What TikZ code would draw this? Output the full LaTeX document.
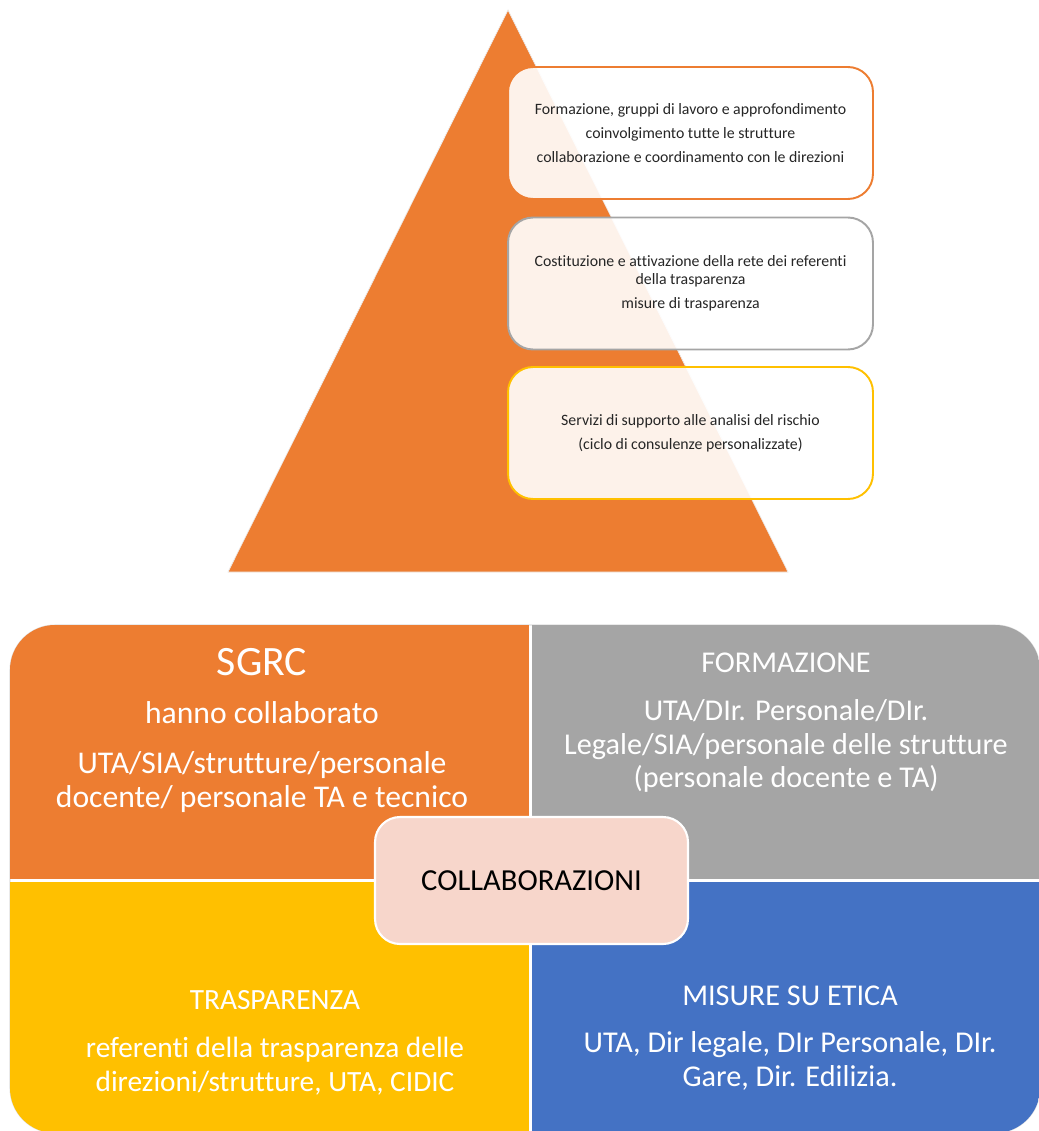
\documentclass[tikz,border=0pt]{standalone}
\usepackage{fontspec}
\setmainfont[Ligatures=NoCommon]{Carlito}
\usetikzlibrary{positioning}
\definecolor{accorange}{RGB}{237,125,49}
\definecolor{accgray}{RGB}{165,165,165}
\definecolor{accgold}{RGB}{255,192,0}
\definecolor{accblue}{RGB}{68,114,196}
\definecolor{accpeach}{RGB}{247,214,203}
\tikzset{
  tierbox/.style={draw, line width=1.1pt, rounded corners=0.5cm, fill=white, fill opacity=0.9,
    text opacity=1, minimum width=7.3cm, minimum height=2.64cm, align=center,
    font=\fontsize{9}{9.8}\selectfont, text=black!85},
  cornertext/.style={text=white, align=center, font=\fontsize{17.2}{19}\selectfont},
  cornertitle/.style={text=white, font=\fontsize{17.2}{19}\selectfont}
}

\begin{document}
\begin{tikzpicture}[x=0.02cm, y=-0.02cm]
  \useasboundingbox (0,0) rectangle (1038,1131);

  % pyramid
  \filldraw[fill=accorange, draw=white!85!gray, line width=0.4pt] (508,10) -- (788,572) -- (228,572) -- cycle;

  \node[tierbox, draw=accorange] (tierA) at (690.5,133)
    {Formazione, gruppi di lavoro e approfondimento\\[4pt]
     coinvolgimento tutte le strutture\\[4pt]
     collaborazione e coordinamento con le direzioni};
  \node[tierbox, draw=accgray] (tierB) at (690.5,283.5)
    {Costituzione e attivazione della rete dei referenti\\
     della trasparenza\\[4pt]
     misure di trasparenza};
  \node[tierbox, draw=accgold] (tierC) at (690.5,433)
    {Servizi di supporto alle analisi del rischio\\[4pt]
     (ciclo di consulenze personalizzate)};

  % four coloured quarters
  \draw[gray!25, line width=0.6pt, rounded corners=0.9cm] (10,625) rectangle (1040,1133);
  \begin{scope}
    \clip[rounded corners=0.9cm] (10,625) rectangle (1040,1133);
    \fill[accorange] (10,625) rectangle (529,879);
    \fill[accgray] (532,625) rectangle (1040,879);
    \fill[accgold] (10,882) rectangle (529,1133);
    \fill[accblue] (532,882) rectangle (1040,1133);
  \end{scope}

  \node[cornertitle, font=\fontsize{23.8}{27}\selectfont] (sgrc) at (262,662) {SGRC};
  \node[cornertext, font=\fontsize{18}{19.3}\selectfont] (sgrcText) at (262,757)
    {hanno collaborato\\[9pt]
     UTA/SIA/strutture/personale\\
     docente/ personale TA e tecnico};

  \node[cornertitle] (formaz) at (786,663) {FORMAZIONE};
  \node[cornertext] (formazText) at (786,746)
    {UTA/DIr. Personale/DIr.\\
     Legale/SIA/personale delle strutture\\
     (personale docente e TA)};

  \node[cornertitle, font=\fontsize{16.7}{19}\selectfont] (traspar) at (275,1000) {TRASPARENZA};
  \node[cornertext, font=\fontsize{16.7}{19}\selectfont] (trasparText) at (275,1066)
    {referenti della trasparenza delle\\
     direzioni/strutture, UTA, CIDIC};

  \node[cornertitle] (etica) at (790,996) {MISURE SU ETICA};
  \node[cornertext] (eticaText) at (790,1061)
    {UTA, Dir legale, DIr Personale, DIr.\\
     Gare, Dir. Edilizia.};

  \node[draw=white, line width=1.2pt, fill=accpeach, rounded corners=0.5cm,
    minimum width=6.26cm, minimum height=2.54cm, font=\fontsize{17.4}{20}\selectfont]
    (collab) at (531.5,880.5) {COLLABORAZIONI};
\end{tikzpicture}
\end{document}
